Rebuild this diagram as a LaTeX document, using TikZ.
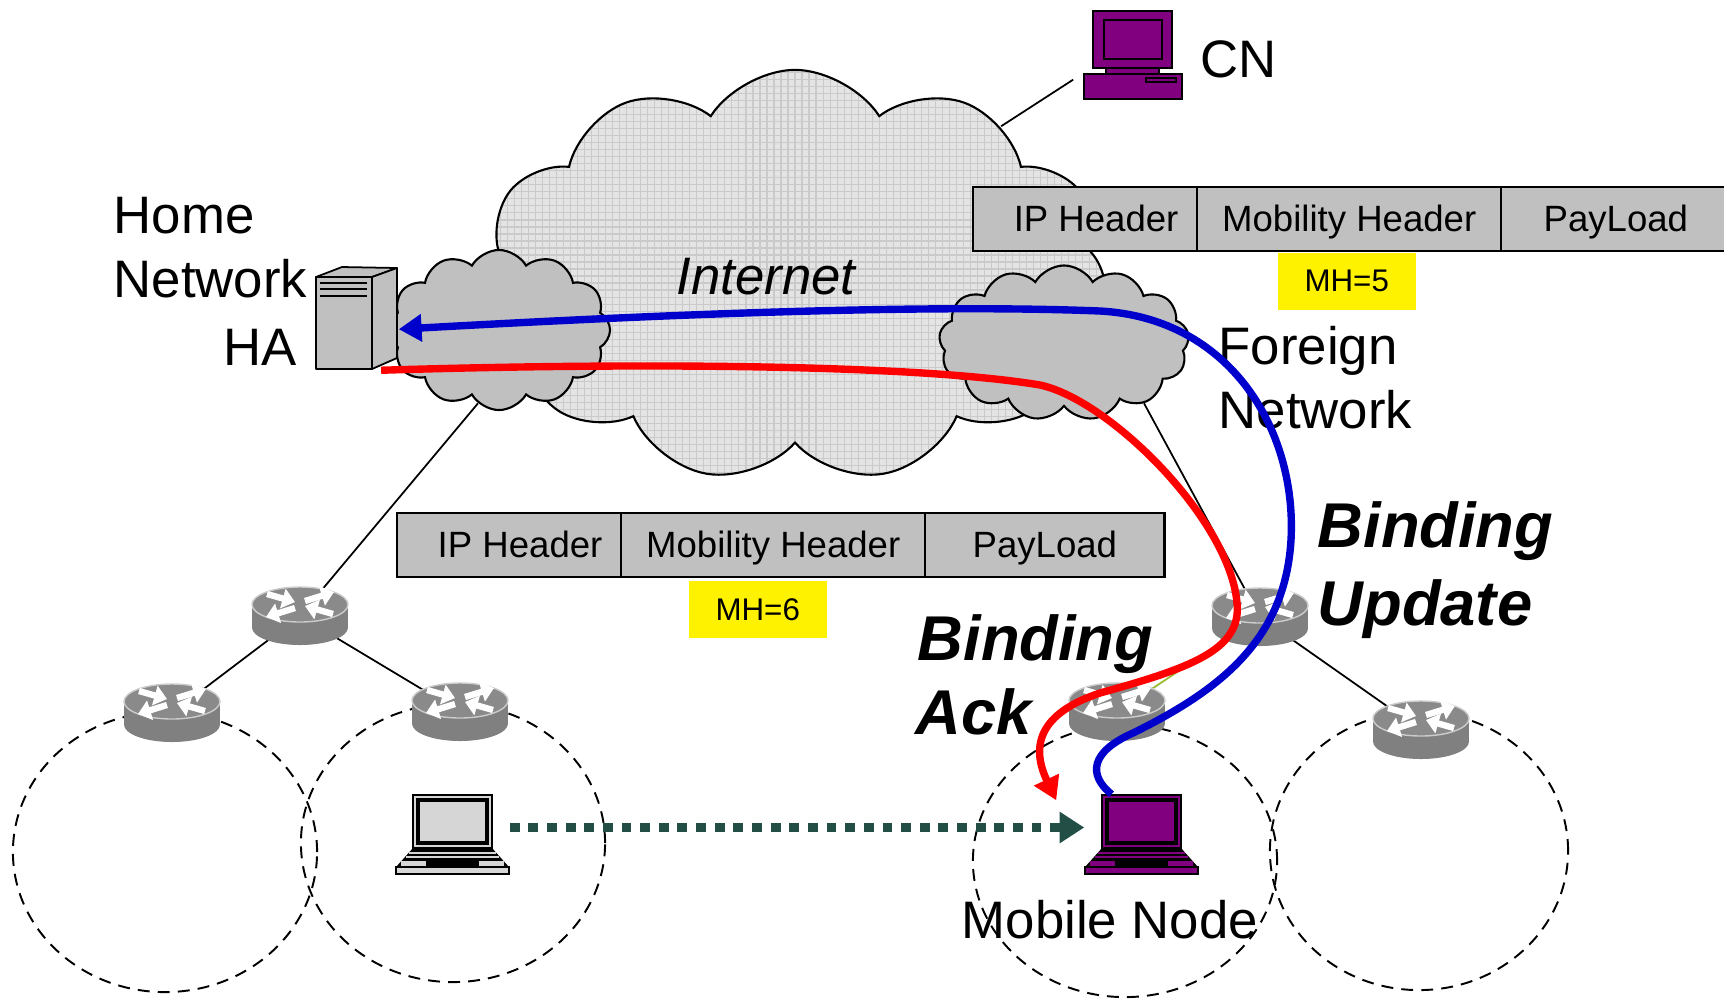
\documentclass[tikz,border=0pt]{standalone}
\usepackage{fontspec}
\setmainfont{Liberation Sans}
\usetikzlibrary{shapes.symbols,arrows.meta,positioning}
\definecolor{MNPurple}{RGB}{128,0,128}
\definecolor{BoxGray}{RGB}{192,192,192}
\definecolor{NetGray}{RGB}{228,228,228}
\definecolor{GridGray}{RGB}{202,202,202}
\definecolor{RouterSide}{RGB}{128,128,128}
\definecolor{RouterTop}{RGB}{138,138,138}
\definecolor{LaptopGray}{RGB}{214,214,214}
\definecolor{BUBlue}{RGB}{0,0,204}
\definecolor{BARed}{RGB}{255,0,0}
\definecolor{MoveGreen}{RGB}{34,78,70}
\definecolor{LinkOlive}{RGB}{153,187,51}

\tikzset{
  % cisco style router, centred on the icon
  router/.pic={
    \fill[RouterSide] (0,11.5) ellipse[x radius=0.48cm,y radius=0.175cm];
    \fill[RouterSide] (-48,-11.5) rectangle (48,11.5);
    \filldraw[fill=RouterTop,draw=gray!40,line width=0.4pt] (0,-11.5) ellipse[x radius=0.48cm,y radius=0.175cm];
    \foreach \ax/\ay/\bx/\by in {-33/-22/-5/-14, 5/-15/34/-24, -5/-8/-34/1, 33/-2/5/-10}
      \draw[white,line width=1.8pt,-{Triangle[length=3.6pt,width=5.6pt]}] (\ax,\ay) -- (\bx,\by);
  },
  % tower server (home agent)
  server/.pic={
    \draw[fill=BoxGray,line width=0.5pt,line join=round] (-40,-41) rectangle (16,51);
    \draw[fill=BoxGray,line width=0.5pt,line join=round] (-40,-41) -- (-14,-51) -- (41,-50) -- (16,-41) -- cycle;
    \draw[fill=BoxGray,line width=0.5pt,line join=round] (16,-41) -- (41,-50) -- (41,40) -- (16,51) -- cycle;
    \foreach \by in {-35,-29,-22}
      \draw[line width=0.75pt] (-36,\by) -- (11,\by);
    \node[inner sep=0,minimum width=0.82cm,minimum height=1.03cm] (-box) at (1,0) {};
  },
  % desktop computer (correspondent node)
  desktop/.pic={
    \draw[fill=MNPurple,line width=0.5pt] (-40,-44) rectangle (39,13);
    \draw[fill=MNPurple,line width=0.6pt] (-29,-35) rectangle (29,4);
    \draw[fill=MNPurple,line width=0.5pt] (-27,13) rectangle (26,19);
    \draw[fill=MNPurple,line width=0.5pt] (-49,19) rectangle (49,44);
    \draw[fill=MNPurple,line width=0.5pt] (13,23) rectangle (43,27);
    \node[inner sep=0,minimum width=0.98cm,minimum height=0.88cm] (-box) at (0,0) {};
  },
  % notebook, #1 = body colour
  pics/laptop/.style={code={
    \draw[fill=#1,line width=0.5pt] (-39,-39) rectangle (40,14);
    \draw[fill=#1,line width=0.9pt] (-34,-34) rectangle (35,9);
    \fill[black] (-39,14) -- (40,14) -- (57,33) -- (-56,33) -- cycle;
    \draw[#1,line width=0.4pt] (-43,19) -- (44,19) (-46,23) -- (47,23);
    \fill[#1] (-51,27) rectangle (52,33);
    \fill[black] (-26,27) rectangle (27,32);
    \draw[fill=#1,line width=0.5pt] (-56,33) rectangle (57,40);
    \node[inner sep=0,minimum width=1.13cm,minimum height=0.79cm] (-box) at (0.5,0.5) {};
  }},
}

\begin{document}
\begin{tikzpicture}[x=0.01cm,y=-0.01cm,
  subnet/.style={cloud,cloud puffs=#1,cloud puff arc=120,cloud ignores aspect,
                 draw,line width=0.6pt,fill=BoxGray,inner sep=0},
  cell/.style={draw,line width=0.6pt,fill=BoxGray,minimum height=0.64cm,
               text height=1.38ex,text depth=0pt,
               inner sep=0,outer sep=0,font=\fontsize{10.4}{12}\selectfont},
  mhbox/.style={fill=yellow,minimum width=1.38cm,minimum height=0.57cm,
                inner sep=0,font=\fontsize{8.9}{10}\selectfont},
  lbl/.style={inner sep=0,font=\fontsize{15}{18}\selectfont},
  bigtxt/.style={inner sep=0,font=\fontsize{18}{22}\selectfont\bfseries\itshape},
  cellarea/.style={line width=0.55pt,dash pattern=on 3.4pt off 2.3pt},
  link/.style={line width=0.5pt},
  updline/.style={draw=BUBlue,line width=2.1pt,-{Triangle[length=6.5pt,width=7.5pt]}},
  ackline/.style={draw=BARed,line width=2.1pt,-{Triangle[length=6.5pt,width=7.5pt]}},
  moveline/.style={draw=MoveGreen,line width=2.6pt,dash pattern=on 2.8pt off 2.5pt,
                   -{Triangle[length=7pt,width=8.5pt]}},
]
\useasboundingbox (0,0) rectangle (1724,999);

% router positions
\coordinate (r1) at (300,616);
\coordinate (r2) at (172,713);
\coordinate (r3) at (460,712);
\coordinate (r4) at (1260,617);
\coordinate (r5) at (1117,712);
\coordinate (r6) at (1421,730);

% clouds
\node[cloud,cloud puffs=11,cloud puff arc=115,cloud ignores aspect,draw,line width=0.6pt,
      fill=NetGray,minimum width=6.25cm,minimum height=4.12cm,inner sep=0,
      path picture={\draw[GridGray,line width=0.3pt,step=0.07cm]
        (path picture bounding box.south west) grid (path picture bounding box.north east);}]
  (inet) at (795,276) {};
\node[subnet=12,minimum width=2.22cm,minimum height=1.6cm] (home) at (499,330) {};
\node[subnet=13,minimum width=2.5cm,minimum height=1.55cm] (foreign) at (1064,343) {};

\pic (cn) at (1133,55) {desktop};

% wires
\draw[link,shorten <=0.12cm] (cn-box.200) -- (inet.36);
\draw[link] (home.-106) -- (r1);
\draw[link] (foreign.-37) -- (r4);
\draw[link] (r1) -- (r2);
\draw[link] (r1) -- (r3);
\draw[link] (r4) -- (r6);
\draw[link,LinkOlive] (r4) -- (r5);

% radio cells
\draw[cellarea] (165,852) ellipse[x radius=1.52cm,y radius=1.40cm];
\draw[cellarea] (453,843) ellipse[x radius=1.52cm,y radius=1.39cm];
\draw[cellarea] (1125,861) ellipse[x radius=1.52cm,y radius=1.36cm];
\draw[cellarea] (1419,851) ellipse[x radius=1.49cm,y radius=1.39cm];

\foreach \r in {r1,r2,r3,r4,r5,r6}
  \pic at (\r) {router};

\pic (ha) at (356,318) {server};
\pic (oldlap) at (452,834) {laptop=LaptopGray};
\pic (mn) at (1141,834) {laptop=MNPurple};

% binding update packet
\node[cell,minimum width=2.24cm,anchor=north west] (ip1) at (973,187) {\hspace{0.22cm}IP Header};
\node[cell,minimum width=3.04cm,right=0pt of ip1] (mh1) {Mobility Header};
\node[cell,minimum width=2.29cm,right=0pt of mh1] (pl1) {PayLoad};
\node[mhbox,anchor=north west] (mhv1) at (1277,252) {MH=5};

% binding ack packet
\node[cell,minimum width=2.24cm,anchor=north west] (ip2) at (397,513) {\hspace{0.22cm}IP Header};
\node[cell,minimum width=3.04cm,right=0pt of ip2] (mh2) {Mobility Header};
\node[cell,minimum width=2.39cm,right=0pt of mh2] (pl2) {PayLoad};
\node[mhbox,anchor=north west] (mhv2) at (688,580) {MH=6};

% labels
\node[lbl,anchor=base west] (homelbl) at (113,233) {Home};
\node[lbl,anchor=base west] (homenet) at (113,297) {Network};
\node[lbl,anchor=base east] (halbl) at (297,365) {HA};
\node[lbl,anchor=base west] (cnlbl) at (1200,77) {CN};
\node[lbl,anchor=base west] (forlbl) at (1218,364) {Foreign};
\node[lbl,anchor=base west] (fornet) at (1218,428) {Network};
\node[lbl,anchor=base,font=\fontsize{15}{18}\selectfont\itshape] (inetlbl) at (766,294) {Internet};
\node[lbl,anchor=base] (mnlbl) at (1110,938) {Mobile Node};
\node[bigtxt,anchor=base west] (bu1) at (1317,547) {Binding};
\node[bigtxt,anchor=base west] (bu2) at (1317,625) {Update};
\node[bigtxt,anchor=base west] (ba1) at (917,660) {Binding};
\node[bigtxt,anchor=base west] (ba2) at (915,734) {Ack};

% movement of the node
\draw[moveline] ([yshift=0.07cm]oldlap-box.east) -- ([yshift=0.07cm]mn-box.west);

% binding update: MN -> HA
\draw[updline] ([xshift=-0.30cm]mn-box.north)
  .. controls (1088,775) and (1090,752) .. (1133,733)
  .. controls (1220,690) and (1285,640) .. (1291,540)
  .. controls (1297,430) and (1230,318) .. (1100,311)
  .. controls (900,303) and (600,318) .. (ha-box.-15);

% binding ack: HA -> MN
\draw[ackline] ([xshift=-0.06cm]ha-box.-60)
  .. controls (650,362) and (920,365) .. (1040,385)
  .. controls (1110,400) and (1230,520) .. (1237,603)
  .. controls (1242,650) and (1190,668) .. (1100,693)
  .. controls (1040,713) and (1030,745) .. ([xshift=-0.28cm,yshift=-0.06cm]mn-box.north west);
\end{tikzpicture}
\end{document}
